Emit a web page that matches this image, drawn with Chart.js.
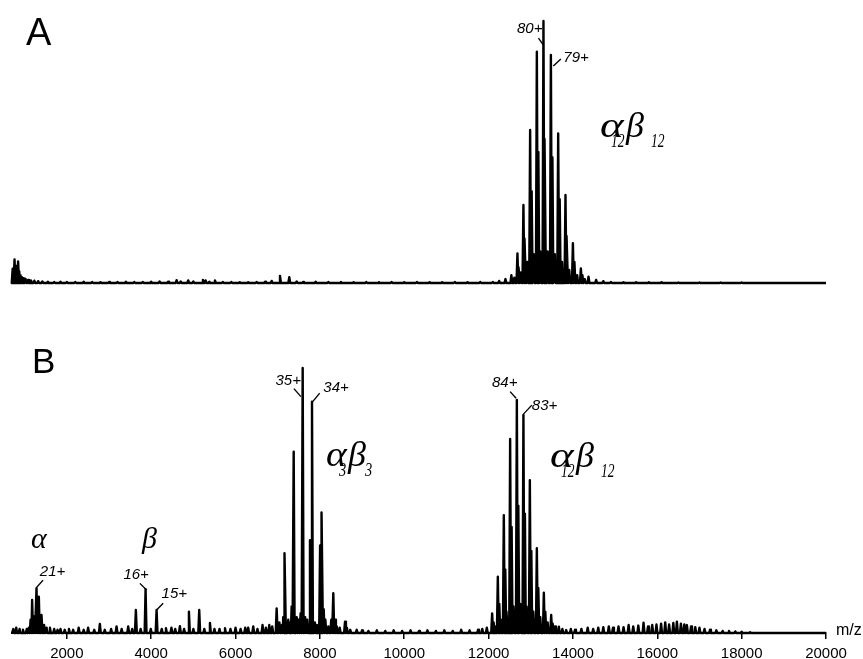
<!DOCTYPE html>
<html><head><meta charset="utf-8">
<script src="https://cdn.jsdelivr.net/npm/chart.js@4.4.1/dist/chart.umd.min.js"></script>
<style>
html,body{margin:0;padding:0;background:#fff;overflow:hidden;}
#wrap{position:relative;width:863px;height:659px;overflow:hidden;}
canvas{position:absolute;left:0;top:0;}
</style></head>
<body><div id="wrap"><canvas id="cA" width="863" height="659"></canvas><canvas id="cB" width="863" height="690"></canvas></div>
<script>
// ---------- Data (m/z, relative intensity %) ----------
// Panel A
const mzA_low  = [716,735,760,785,805,825,845,870,900,935,975,1020,1080,1150,1230,1320,1420,1550,1700,1850,2000,2200,2400,2600,2800,3000,3200,3400,3600,3800,4000,4200,4400];
const intA_low = [5.5,3,9,4,6.5,3.5,8.2,4.5,3,2.2,1.8,1.6,1.2,1,0.9,0.7,0.6,0.5,0.4,0.5,0.4,0.4,0.5,0.4,0.3,0.4,0.4,0.5,0.4,0.4,0.5,0.6,0.5];
const mzA_mid  = [4603,4700,4878,5000,5227,5290,5380,5512,5700,5900,6100,6300,6500,6700,6857,7054,7274,7450,7600,7900,8200,8500,8800,9100,9400,9700,10000,10300,10600,10900,11200,11500,11800,12100,12250,12400,12540];
const intA_mid = [1.1,0.6,1,0.6,1.2,1.0,0.5,1.0,0.4,0.4,0.3,0.3,0.4,0.5,0.8,2.7,2.2,0.6,0.4,0.5,0.4,0.4,0.3,0.4,0.3,0.4,0.3,0.4,0.3,0.3,0.4,0.3,0.4,0.4,0.8,1.5,3];
const mzA_main  = [12684,12826,12985,13144,13301,13477,13650,13823,13999,14188,14369];
const intA_main = [11.3,29.8,58.4,88.3,100,87,57.1,33.6,15.2,5.6,2.4];
const mzA_sat   = [12720,12862,13021,13180,13337,13513,13686,13859,14035,14224,12610,12765,12915,13070,13225,13400,13570,13740,13912,14100,14280];
const intA_sat  = [6,17,35,50,55,48,32,18,8,3,2,4,8,11,12,12,11,8,5,3,1.5];
const mzA_high  = [14550,14720,14900,15200,15500,15800,16100,16500,17000,17500,18000];
const intA_high = [1.2,0.7,0.4,0.3,0.3,0.3,0.3,0.2,0.2,0.2,0.2];

// Panel B
const mzB_alpha  = [730,800,880,960,1050,1100,1140,1177,1224,1281,1336,1400,1461,1520,1600,1700,1780,1850,1950,2050,2150,2281,2400,2505,2650,2783,2900,3050,3179,3300,3455,3550];
const intB_alpha = [1.5,2,1.5,1.2,1.5,2,5,12.5,6.2,16.9,13.7,6.8,3,2,2,1.5,1.2,1.5,1.2,1.5,1.2,2,1.2,2,1.2,3.4,1.2,1.5,2.5,1.5,2.5,1.5];
const mzB_beta   = [3637,3750,3867,3990,4128,4250,4350,4480,4570,4681,4780,4895,5000,5139,5260,5393,5500,5620,5750,5880,6000,6120,6230,6300,6420,6520,6640,6720,6800,6870];
const intB_beta  = [8.7,1.5,16.5,1.5,8.7,1.5,1.8,2,1.5,2.6,1.5,8,1.5,8.7,1.5,3.8,1.5,1.5,1.8,1.5,2,1.5,2,2,2.5,1.5,3,2,3,2.5];
const mzB_a3b3   = [6975,7172,7379,7592,7813,8050,8318,8596,8873];
const intB_a3b3  = [9.3,30.1,68.4,100,87.3,45.5,15,4.3,1.2];
const mzB_a3b3s  = [7040,7100,7130,7250,7290,7330,7450,7490,7545,7650,7700,7765,7880,7930,8005,8090,8130,8200,8270,8360,8400,8470,8640,8720];
const intB_a3b3s = [4,3,6,5,4,10,6,5,7.5,6,5,35,4,3,33,9,5,2.5,5,5,2.5,2,2,1.2];
const mzB_mid    = [9000,9150,9350,9550,9750,9950,10150,10350,10550,10750,10950,11150,11350,11550,11750,11850];
const intB_mid   = [1,0.8,1,0.8,1,0.8,1,0.8,1,0.8,1,0.8,1.2,1,1.2,1.5];
const mzB_a12    = [11958,12084,12219,12361,12511,12670,12826,12978,13144,13310,13484,13666,13840];
const intB_a12   = [2,7.4,21.2,44.5,73.2,87.9,82.3,57.7,32,15.2,6.8,2.4,1.1];
const mzB_a12s   = [12119,12254,12396,12546,12705,12861,13013,13179,13345,13519,12150,12290,12435,12590,12750,12900,13060,13225,13400,13575,13750];
const intB_a12s  = [4,11,24,40,48,45,31,17,8,3.5,2.5,5,8,10,11,10,8,6,4,2.5,1.5];
const mzB_high   = [13950,14050,14200,14350,14480,14600,14720,14850,14950,15080,15200,15320,15430,15550,15674,15780,15880,15980,16090,16188,16280,16380,16465,16560,16640,16702,16800,16900,17000,17120,17250,17400,17550,17700,17850,18000,18200];
const intB_high  = [1.5,1.2,1.5,2,1.5,2,2.2,2.5,2,2.5,2.2,3,2.5,2.8,3.9,2.5,3,3.2,3.5,4,3.2,3.8,4.3,3.5,3.2,3,2.5,2.2,2,1.5,1.2,1,0.8,0.8,0.6,0.5,0.3];

const xTicks = [2000,4000,6000,8000,10000,12000,14000,16000,18000,20000];
const X_MIN = 700, X_MAX = 20000;

// ---------- build line traces (each listed peak drawn as a narrow spike) ----------
const HALF = 22;
function trace(groups){
  const peaks = [];
  groups.forEach(([m, v]) => m.forEach((x, i) => peaks.push([x, v[i]])));
  peaks.sort((a, b) => a[0] - b[0]);
  const pts = [{x: X_MIN, y: 0}];
  peaks.forEach(([x, y]) => { pts.push({x: x - HALF, y: 0}, {x: x, y: y}, {x: x + HALF, y: 0}); });
  pts.push({x: X_MAX, y: 0});
  return pts;
}
const traceA = trace([[mzA_low,intA_low],[mzA_mid,intA_mid],[mzA_main,intA_main],[mzA_sat,intA_sat],[mzA_high,intA_high]]);
const traceB = trace([[mzB_alpha,intB_alpha],[mzB_beta,intB_beta],[mzB_a3b3,intB_a3b3],[mzB_a3b3s,intB_a3b3s],[mzB_mid,intB_mid],[mzB_a12,intB_a12],[mzB_a12s,intB_a12s],[mzB_high,intB_high]]);

// ---------- annotations ----------
const SANS = '"Liberation Sans", Arial, sans-serif';
const SERIF = '"Liberation Serif", "Times New Roman", serif';
function drawCharge(ch, c){
  const xs = ch.scales.x, ys = ch.scales.y, ctx = ch.ctx;
  const px = xs.getPixelForValue(c.mz), py = ys.getPixelForValue(c.h);
  ctx.save();
  ctx.strokeStyle = '#000'; ctx.lineWidth = 1.4;
  ctx.beginPath(); ctx.moveTo(px + c.sx, py + c.sy); ctx.lineTo(px, py); ctx.stroke();
  ctx.fillStyle = '#000';
  ctx.font = 'italic 15px ' + SANS;
  ctx.textBaseline = 'alphabetic';
  ctx.textAlign = c.sx < 0 ? 'right' : 'left';
  ctx.fillText(c.t, px + c.tx, py + c.ty);
  ctx.restore();
}
function drawGreek(ctx, parts){
  parts.forEach(p => {
    ctx.save(); ctx.fillStyle = '#000'; ctx.textBaseline = 'alphabetic'; ctx.textAlign = 'left';
    ctx.font = 'italic ' + p.s + 'px ' + SERIF;
    ctx.translate(p.x, p.y); ctx.scale(p.k || 1, 1);
    ctx.fillText(p.t, 0, 0);
    ctx.restore();
  });
}
function drawPlain(ctx, t, x, y, size){
  ctx.save(); ctx.fillStyle = '#000'; ctx.textBaseline = 'alphabetic'; ctx.textAlign = 'left';
  ctx.font = size + 'px ' + SANS; ctx.fillText(t, x, y); ctx.restore();
}
function complexLabel(x, y, sub){
  return [{t:'α',x:x,y:y,s:36,k:1.25},{t:sub,x:x+11,y:y+10,s:18,k:0.75},{t:'β',x:x+26,y:y,s:36},{t:sub,x:x+51,y:y+10,s:18,k:0.75}];
}

const labelsA = [
  {t:'80+', mz:13301, h:90.8, sx:-5, sy:-7, tx:-1, ty:-12},
  {t:'79+', mz:13535, h:82.8, sx:7.5, sy:-7, tx:10, ty:-4}
];
const labelsB = [
  {t:'35+', mz:7550, h:89.2, sx:-7, sy:-8, tx:0, ty:-11.7},
  {t:'34+', mz:7830, h:87.3, sx:7, sy:-8.5, tx:10.6, ty:-10},
  {t:'84+', mz:12652, h:88.6, sx:-6, sy:-6.6, tx:1.3, ty:-11},
  {t:'83+', mz:12826, h:82.6, sx:8.4, sy:-9, tx:8.4, ty:-4},
  {t:'16+', mz:3891, h:16.2, sx:-6.7, sy:-6.7, tx:2.3, ty:-10.7},
  {t:'15+', mz:4128, h:8.7, sx:6.6, sy:-6.7, tx:5, ty:-11.7},
  {t:'21+', mz:1281, h:17.2, sx:6.6, sy:-7.3, tx:3.3, ty:-11.3}
];

const annotA = {id:'annotA', afterDraw(ch){
  const ctx = ch.ctx;
  drawPlain(ctx, 'A', 26, 45, 38);
  labelsA.forEach(c => drawCharge(ch, c));
  drawGreek(ctx, complexLabel(600, 137, '12'));
}};
const annotB = {id:'annotB', afterDraw(ch){
  const ctx = ch.ctx;
  drawPlain(ctx, 'B', 32, 373, 35);
  labelsB.forEach(c => drawCharge(ch, c));
  drawGreek(ctx, complexLabel(550, 467, '12'));
  drawGreek(ctx, [{t:'α',x:326,y:466,s:36,k:1.1},{t:'3',x:339,y:476,s:18,k:0.8},{t:'β',x:348,y:466,s:36},{t:'3',x:365,y:476,s:18,k:0.8}]);
  drawGreek(ctx, [{t:'α',x:31,y:548,s:30}]);
  drawGreek(ctx, [{t:'β',x:142,y:548,s:30}]);
  drawPlain(ctx, 'm/z', 836, 635, 16);
}};

const common = (data) => ({
  type: 'line',
  data: {datasets: [{data, borderColor: '#000', borderWidth: 2.4, pointRadius: 0, tension: 0, clip: false, borderJoinStyle: 'round', fill: false}]},
});

new Chart(document.getElementById('cA'), Object.assign(common(traceA), {
  options: {
    responsive: false, animation: false, devicePixelRatio: 1,
    layout: {padding: {left: 12, right: 37, top: 21, bottom: 659 - 283}},
    plugins: {legend: {display: false}, tooltip: {enabled: false}},
    scales: {
      x: {type: 'linear', min: X_MIN, max: X_MAX, display: false},
      y: {min: 0, max: 100, display: false}
    }
  },
  plugins: [annotA]
}));

new Chart(document.getElementById('cB'), Object.assign(common(traceB), {
  options: {
    responsive: false, animation: false, devicePixelRatio: 1,
    layout: {padding: {left: 12, right: 37, top: 368, bottom: 21}},
    plugins: {legend: {display: false}, tooltip: {enabled: false}},
    scales: {
      x: {type: 'linear', min: X_MIN, max: X_MAX,
          afterBuildTicks: (axis) => { axis.ticks = xTicks.map(v => ({value: v})); },
          border: {display: true, color: '#000', width: 2},
          grid: {display: true, drawOnChartArea: false, drawTicks: true, tickLength: 6, color: '#000', lineWidth: 1.5},
          ticks: {color: '#000', font: {size: 15, family: SANS}, padding: 6, maxRotation: 0, autoSkip: false,
                  callback: (v) => String(v)}
      },
      y: {min: 0, max: 100, display: false}
    }
  },
  plugins: [annotB]
}));
</script>
</body></html>
